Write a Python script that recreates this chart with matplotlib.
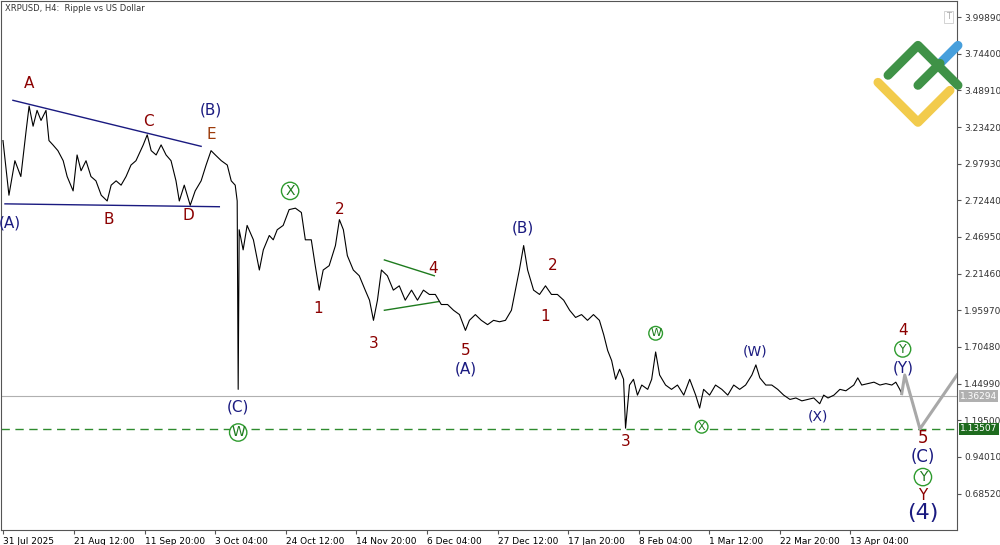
import matplotlib
matplotlib.use("Agg")
import matplotlib.pyplot as plt
import numpy as np

# ── Data: days since 31 Jul 2025, price ─────────────────────────
days = [0, 1.8, 3.6, 5.4, 7.0, 7.9, 9.1, 10.3, 11.5, 13.0, 13.9, 15.1, 16.6, 18.2, 19.4,
        21.2, 22.4, 23.6, 25.1, 26.6, 28.1, 29.7, 31.5, 32.7, 34.2, 35.7, 37.2, 38.7, 40.2,
        42.4, 43.6, 44.8, 46.3, 47.8, 49.3, 50.8, 52.3, 53.3, 54.8, 56.6, 58.1, 59.9, 61.4,
        62.9, 64.2, 66.0, 67.8, 69.0, 70.2, 70.8, 71.1, 71.4, 72.6, 73.8, 75.7, 77.5, 78.7,
        80.5, 81.7, 82.9, 84.7, 86.5, 88.4, 90.2, 91.4, 93.2, 94.4, 95.6, 96.8, 98.6, 100.5,
        101.7, 102.9, 104.1, 105.9, 107.7, 109.5, 110.8, 112.0, 113.2, 114.4, 116.2, 118.0,
        119.8, 121.6, 123.5, 125.3, 127.1, 128.9, 130.7, 132.5, 134.4, 136.2, 138.0, 139.8,
        141.0, 142.8, 144.6, 146.5, 148.3, 150.1, 151.9, 153.7, 154.9, 156.1, 157.4, 158.6,
        160.4, 162.2, 164.0, 165.8, 167.6, 169.5, 171.3, 173.1, 174.9, 176.7, 178.5, 180.3,
        181.6, 182.8, 184.0, 185.2, 186.4, 187.6, 188.2, 189.4, 190.6, 191.8, 193.1, 194.9,
        196.1, 197.3, 198.5, 200.3, 202.1, 203.9, 205.8, 207.6, 209.4, 210.6, 211.8, 213.6,
        215.4, 217.3, 219.1, 220.9, 222.7, 224.5, 226.4, 227.6, 228.8, 230.6, 232.4, 234.2,
        236.0, 237.9, 239.7, 241.5, 243.3, 245.1, 246.9, 248.1, 249.4, 251.2, 253.0, 254.8,
        256.0, 257.2, 258.4, 259.6, 261.4, 263.3, 265.1, 266.9, 268.7, 269.9, 271.1, 271.7]
price = [3.14, 2.76, 3.00, 2.89, 3.21, 3.38, 3.24, 3.35, 3.28, 3.35, 3.14, 3.11, 3.07, 3.00, 2.89,
         2.79, 3.04, 2.93, 3.00, 2.89, 2.86, 2.76, 2.72, 2.83, 2.86, 2.83, 2.89, 2.97, 3.00,
         3.11, 3.18, 3.07, 3.04, 3.11, 3.04, 3.00, 2.86, 2.72, 2.83, 2.69, 2.79, 2.86, 2.97,
         3.07, 3.04, 3.00, 2.97, 2.86, 2.83, 2.72, 1.41, 2.52, 2.38, 2.55, 2.45, 2.24, 2.38,
         2.48, 2.45, 2.52, 2.55, 2.66, 2.67, 2.64, 2.45, 2.45, 2.27, 2.10, 2.24, 2.27, 2.41,
         2.59, 2.52, 2.34, 2.24, 2.20, 2.10, 2.03, 1.89, 2.03, 2.24, 2.20, 2.10,
         2.13, 2.03, 2.10, 2.03, 2.10, 2.07, 2.07, 2.00, 2.00, 1.96, 1.93, 1.82,
         1.89, 1.93, 1.89, 1.86, 1.89, 1.88, 1.89, 1.96, 2.10, 2.24, 2.41, 2.24,
         2.10, 2.07, 2.13, 2.07, 2.07, 2.03, 1.96, 1.91, 1.93, 1.89, 1.93, 1.89,
         1.79, 1.68, 1.61, 1.48, 1.55, 1.48, 1.14, 1.44, 1.48, 1.37, 1.44, 1.41,
         1.48, 1.67, 1.51, 1.44, 1.41, 1.44, 1.37, 1.48, 1.37, 1.28, 1.41, 1.37,
         1.44, 1.41, 1.37, 1.44, 1.41, 1.44, 1.51, 1.58, 1.49, 1.44, 1.44, 1.41,
         1.37, 1.34, 1.35, 1.33, 1.34, 1.35, 1.31, 1.37, 1.35, 1.37, 1.41, 1.40,
         1.42, 1.44, 1.49, 1.44, 1.45, 1.46, 1.44, 1.45, 1.44, 1.46, 1.41, 1.38]

proj_days = [271.7, 272.6, 277.2, 288.4]
proj_price = [1.38, 1.51, 1.135, 1.51]

last_price = 1.36294
target_price = 1.13507

tick_days = [0, 21.5, 42.83, 64.17, 85.5, 106.83, 128.17, 149.5, 170.83, 192.17, 213.5, 234.83, 256.17]
tick_labels = ["31 Jul 2025", "21 Aug 12:00", "11 Sep 20:00", "3 Oct 04:00", "24 Oct 12:00",
               "14 Nov 20:00", "6 Dec 04:00", "27 Dec 12:00", "17 Jan 20:00", "8 Feb 04:00",
               "1 Mar 12:00", "22 Mar 20:00", "13 Apr 04:00"]
price_ticks = [0.68520, 0.94010, 1.19500, 1.44990, 1.70480, 1.95970, 2.21460,
               2.46950, 2.72440, 2.97930, 3.23420, 3.48910, 3.74400, 3.99890]

# wave labels: (day, price, text, colour, size)
RED = "#8b0000"; NAVY = "#1a1a80"; ORG = "#9c3b0b"
labels = [
    (7.9, 3.54, "A", RED, 11), (2.2, 2.57, "(A)", NAVY, 11), (32.1, 2.59, "B", RED, 11),
    (43.9, 3.27, "C", RED, 11), (56.0, 2.62, "D", RED, 11), (62.9, 3.18, "E", ORG, 11),
    (62.9, 3.35, "(B)", NAVY, 11), (71.1, 1.29, "(C)", NAVY, 11),
    (101.7, 2.66, "2", RED, 11), (95.3, 1.97, "1", RED, 11), (112.0, 1.73, "3", RED, 11),
    (130.1, 2.25, "4", RED, 11), (139.8, 1.68, "5", RED, 11), (139.8, 1.55, "(A)", NAVY, 11),
    (157.1, 2.53, "(B)", NAVY, 11), (166.1, 2.27, "2", RED, 11), (164.0, 1.92, "1", RED, 11),
    (188.2, 1.05, "3", RED, 11), (227.3, 1.67, "(W)", NAVY, 10), (246.3, 1.22, "(X)", NAVY, 10),
    (272.0, 1.82, "4", RED, 11), (272.3, 1.56, "(Y)", NAVY, 11), (278.1, 1.075, "5", RED, 12),
    (278.1, 0.94, "(C)", NAVY, 12), (278.1, 0.67, "Y", RED, 11), (278.1, 0.55, "(4)", NAVY, 16),
]
circled = [(71.1, 1.11, "W", 10), (86.8, 2.79, "X", 10), (197.3, 1.80, "W", 8),
           (211.2, 1.15, "X", 8), (272.0, 1.69, "Y", 9), (278.1, 0.80, "Y", 10)]

# triangle boundary lines
tri_navy = [((3.0, 3.42), (59.9, 3.10)), ((0.6, 2.70), (65.4, 2.68))]
tri_green = [((115.3, 2.31), (130.4, 2.20)), ((115.3, 1.96), (131.6, 2.02))]

# ── Figure ───────────────────────────────────────────────────────
fig = plt.figure(figsize=(10, 5.45), dpi=100)
ax = fig.add_axes([0.001, 0.027, 0.956, 0.971])

ax.plot(days, price, color="black", lw=0.8, zorder=3)
ax.plot(proj_days, proj_price, color="#a8a8a8", lw=2.2, zorder=3)
ax.axhline(last_price, color="#b0b0b0", lw=0.8, zorder=1)
ax.axhline(target_price, color="#2e8b2e", lw=1.0, ls=(0, (6, 4)), zorder=1)

for (x0, y0), (x1, y1) in tri_navy:
    ax.plot([x0, x1], [y0, y1], color="#1a1a80", lw=1.0, zorder=2)
for (x0, y0), (x1, y1) in tri_green:
    ax.plot([x0, x1], [y0, y1], color="#1e7b1e", lw=1.0, zorder=2)

for x, y, t, c, s in labels:
    ax.text(x, y, t, color=c, fontsize=s, ha="center", va="center", zorder=5)
for x, y, t, s in circled:
    ax.text(x, y, t, color="#1e7b1e", fontsize=s, ha="center", va="center", zorder=5,
            bbox=dict(boxstyle="circle,pad=0.12", fc="white", ec="#2e9b2e", lw=1.0))

ax.set_xlim(-0.6, 288.4)
ax.set_ylim(0.43, 4.11)
ax.set_xticks(tick_days)
ax.set_xticklabels(tick_labels, fontsize=6.5, ha="left")
ax.yaxis.tick_right()
ax.set_yticks(price_ticks)
ax.set_yticklabels([f"{p:.5f}" for p in price_ticks], fontsize=6.5, color="#333333")
ax.tick_params(axis="both", length=3, color="#555555", pad=2)
for sp in ax.spines.values():
    sp.set_color("#555555")
    sp.set_linewidth(0.8)

# price tags on the right axis
ax.text(1.003, last_price, "1.36294", transform=ax.get_yaxis_transform(), fontsize=6.5,
        color="white", va="center", ha="left",
        bbox=dict(boxstyle="square,pad=0.15", fc="#b0b0b0", ec="none"))
ax.text(1.003, target_price, "1.13507", transform=ax.get_yaxis_transform(), fontsize=6.5,
        color="white", va="center", ha="left",
        bbox=dict(boxstyle="square,pad=0.15", fc="#1e6b1e", ec="none"))

ax.text(0.004, 0.995, "XRPUSD, H4:  Ripple vs US Dollar", transform=ax.transAxes,
        fontsize=6, va="top", ha="left", color="#333333")
ax.text(0.991, 0.97, "T", transform=ax.transAxes, fontsize=6, va="center", ha="center",
        color="#aaaaaa", bbox=dict(boxstyle="square,pad=0.2", fc="white", ec="#cccccc", lw=0.6))

# logo
lax = fig.add_axes([0.87, 0.761, 0.095, 0.174])
lax.axis("off")
lax.set_xlim(0, 1); lax.set_ylim(0, 1)
kw = dict(lw=6.5, solid_capstyle="round", solid_joinstyle="round", clip_on=False)
lax.plot([0.084, 0.505, 0.842], [0.505, 0.084, 0.421], color="#f2cb4c", **kw)
lax.plot([0.737, 0.926], [0.705, 0.895], color="#479fdc", **kw)
lax.plot([0.19, 0.505, 0.926], [0.58, 0.895, 0.474], color="#3f9247", **kw)
lax.plot([0.505, 0.737], [0.474, 0.705], color="#3f9247", **kw)

fig.savefig("out.png", dpi=100)
